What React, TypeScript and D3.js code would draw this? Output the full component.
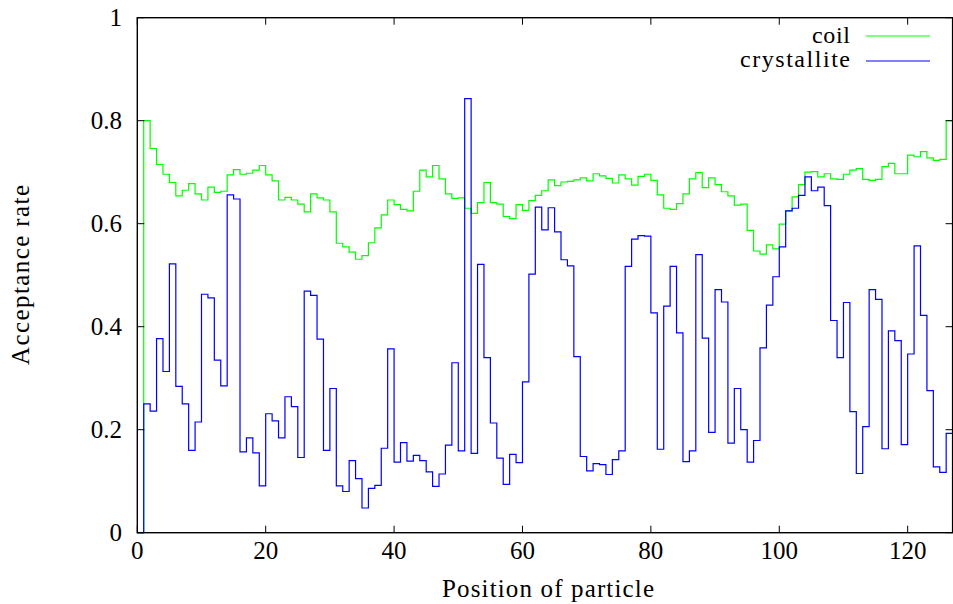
import React from "react";
import * as d3 from "d3";

const positions: number[] = Array.from({ length: 128 }, (_, i) => i);

const coil: number[] = [
  0,
  0.800, 0.746, 0.715, 0.696, 0.680, 0.654, 0.665, 0.678, 0.658, 0.646,
  0.671, 0.661, 0.663, 0.695, 0.705, 0.696, 0.698, 0.704, 0.713, 0.695,
  0.683, 0.646, 0.651, 0.646, 0.638, 0.623, 0.658, 0.650, 0.646, 0.623,
  0.562, 0.555, 0.545, 0.531, 0.538, 0.563, 0.592, 0.617, 0.646, 0.637,
  0.628, 0.625, 0.663, 0.704, 0.691, 0.713, 0.687, 0.658, 0.649, 0.650,
  0.630, 0.620, 0.641, 0.680, 0.641, 0.638, 0.614, 0.610, 0.637, 0.626,
  0.645, 0.655, 0.664, 0.685, 0.674, 0.681, 0.682, 0.685, 0.689, 0.683,
  0.697, 0.693, 0.688, 0.679, 0.695, 0.687, 0.675, 0.692, 0.696, 0.684,
  0.656, 0.630, 0.628, 0.639, 0.658, 0.687, 0.699, 0.670, 0.689, 0.676,
  0.662, 0.654, 0.636, 0.638, 0.587, 0.547, 0.541, 0.559, 0.551, 0.599,
  0.625, 0.652, 0.676, 0.700, 0.701, 0.691, 0.697, 0.687, 0.686, 0.696,
  0.704, 0.707, 0.686, 0.684, 0.686, 0.711, 0.717, 0.697, 0.697, 0.733,
  0.730, 0.740, 0.728, 0.723, 0.725, 0.800,
  0,
];

const crystallite: number[] = [
  0,
  0.250, 0.236, 0.377, 0.313, 0.522, 0.284, 0.250, 0.160, 0.215, 0.463,
  0.456, 0.335, 0.285, 0.656, 0.648, 0.157, 0.184, 0.155, 0.091, 0.231,
  0.217, 0.184, 0.264, 0.245, 0.146, 0.469, 0.461, 0.376, 0.160, 0.280,
  0.091, 0.080, 0.140, 0.105, 0.048, 0.086, 0.092, 0.164, 0.357, 0.137,
  0.175, 0.139, 0.150, 0.140, 0.118, 0.090, 0.114, 0.170, 0.330, 0.159,
  0.843, 0.154, 0.521, 0.340, 0.213, 0.145, 0.094, 0.152, 0.136, 0.293,
  0.502, 0.632, 0.588, 0.631, 0.584, 0.530, 0.518, 0.342, 0.148, 0.120,
  0.134, 0.132, 0.113, 0.142, 0.159, 0.517, 0.570, 0.577, 0.576, 0.427,
  0.162, 0.440, 0.517, 0.388, 0.138, 0.159, 0.540, 0.378, 0.195, 0.472,
  0.448, 0.174, 0.280, 0.200, 0.137, 0.179, 0.359, 0.442, 0.497, 0.555,
  0.625, 0.630, 0.655, 0.691, 0.664, 0.671, 0.635, 0.412, 0.340, 0.447,
  0.235, 0.115, 0.206, 0.472, 0.453, 0.163, 0.392, 0.373, 0.171, 0.347,
  0.557, 0.422, 0.276, 0.128, 0.117, 0.193,
  0,
];

const xTicks: number[] = [0, 20, 40, 60, 80, 100, 120];
const yTicks: number[] = [0, 0.2, 0.4, 0.6, 0.8, 1];
const yTickLabels: string[] = ["0", "0.2", "0.4", "0.6", "0.8", "1"];
const seriesNames: string[] = ["coil", "crystallite"];
const seriesColors: string[] = ["#00ff00", "#0000ff"];

const W = 953;
const H = 604;
const L = 137.3;
const R = 952.6;
const T = 17.7;
const B = 532.7;
const FONT = '"Liberation Serif", "DejaVu Serif", serif';

export default function App() {
  const x = d3.scaleLinear().domain([0, 127]).range([L, R]);
  const y = d3.scaleLinear().domain([0, 1]).range([B, T]);
  const line = d3
    .line<[number, number]>()
    .x((d) => x(d[0]))
    .y((d) => y(d[1]))
    .curve(d3.curveStepAfter);

  const series = [coil, crystallite];
  const tickLen = 7;

  return (
    <div style={{ position: "fixed", left: 0, top: 0 }}>
      <svg width={W} height={H} style={{ display: "block", background: "#fff" }}>
        <rect x={0} y={0} width={W} height={H} fill="#fff" />
        {series.map((s, si) => (
          <path
            key={si}
            d={line(positions.map((p, i) => [p, s[i]] as [number, number])) || ""}
            fill="none"
            stroke={seriesColors[si]}
            strokeWidth={1.2}
          />
        ))}
        {xTicks.map((t) => (
          <g key={"x" + t}>
            <line x1={x(t)} x2={x(t)} y1={B} y2={B - tickLen} stroke="#000" strokeWidth={1} />
            <line x1={x(t)} x2={x(t)} y1={T} y2={T + tickLen} stroke="#000" strokeWidth={1} />
            <text x={x(t)} y={559} textAnchor="middle" fontFamily={FONT} fontSize={25} fill="#000">
              {t}
            </text>
          </g>
        ))}
        {yTicks.map((t, i) => (
          <g key={"y" + t}>
            <line x1={L} x2={L + tickLen} y1={y(t)} y2={y(t)} stroke="#000" strokeWidth={1} />
            <line x1={R} x2={R - tickLen} y1={y(t)} y2={y(t)} stroke="#000" strokeWidth={1} />
            <text x={122} y={y(t) + 8} textAnchor="end" fontFamily={FONT} fontSize={25} fill="#000">
              {yTickLabels[i]}
            </text>
          </g>
        ))}
        <rect x={L} y={T} width={R - L} height={B - T} fill="none" stroke="#000" strokeWidth={1.4} />
        <text
          x={548}
          y={597}
          textAnchor="middle"
          fontFamily={FONT}
          fontSize={25}
          textLength={212}
          lengthAdjust="spacing"
          fill="#000"
        >
          Position of particle
        </text>
        <text
          transform="translate(29,275) rotate(-90)"
          textAnchor="middle"
          fontFamily={FONT}
          fontSize={25}
          textLength={180}
          lengthAdjust="spacing"
          fill="#000"
        >
          Acceptance rate
        </text>
        {seriesNames.map((n, i) => (
          <g key={n}>
            <text
              x={850}
              y={43 + i * 23.5}
              textAnchor="end"
              fontFamily={FONT}
              fontSize={24}
              textLength={i === 0 ? 38 : 110}
              lengthAdjust="spacing"
              fill="#000"
            >
              {n}
            </text>
            <line
              x1={866}
              x2={930}
              y1={36 + i * 25}
              y2={36 + i * 25}
              stroke={seriesColors[i]}
              strokeWidth={1.2}
            />
          </g>
        ))}
      </svg>
    </div>
  );
}
